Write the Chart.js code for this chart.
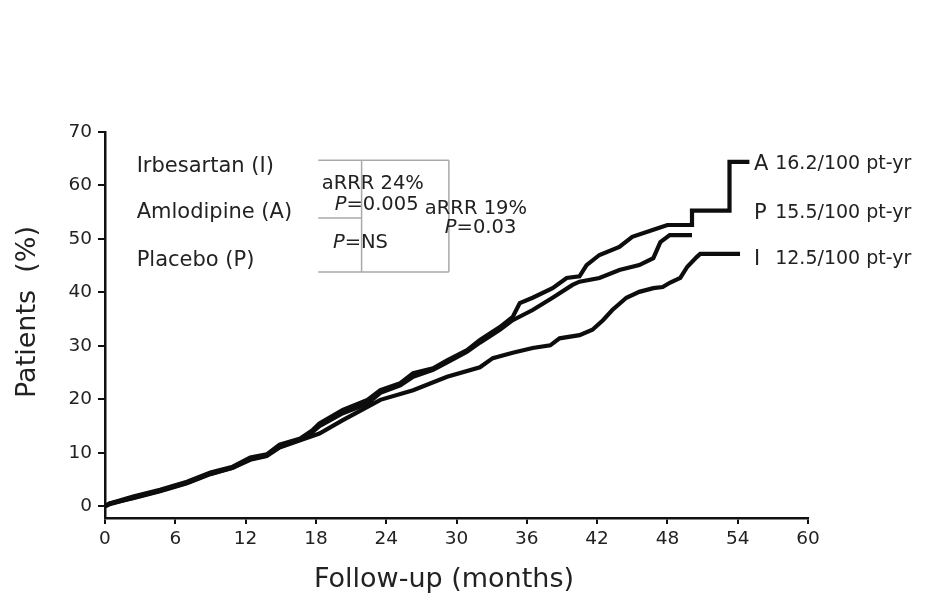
<!DOCTYPE html>
<html>
<head>
<meta charset="utf-8">
<script src="https://cdn.jsdelivr.net/npm/chart.js@4/dist/chart.umd.min.js"></script>
<style>
  html, body { margin: 0; padding: 0; background: #fff; }
  #grafico { display: block; }
</style>
</head>
<body>
<canvas id="grafico" width="925" height="603"></canvas>
<script>
// ==========================
// DADOS
// ==========================
const xTicks = [0, 6, 12, 18, 24, 30, 36, 42, 48, 54, 60];
const yTicks = [0, 10, 20, 30, 40, 50, 60, 70];

const tituloX = "Follow-up (months)";
const tituloY = "Patients  (%)";

// Irbesartan (I)
const mesesI = [0, 0.4, 2.4, 4.7, 7.0, 9.0, 10.9, 12.4, 13.8, 14.9, 16.6, 18.3, 20.3, 22.4, 23.5, 26.3, 29.2, 32.0, 33.1, 34.8, 36.5, 38.0, 38.8, 40.5, 41.6, 42.5, 43.3, 44.5, 45.6, 46.8, 47.6, 48.2, 49.1, 49.7, 50.5, 50.8, 54.2];
const pctI   = [0, 0.5, 1.5, 2.8, 4.3, 6.0, 7.2, 8.7, 9.4, 11.0, 12.3, 13.6, 16.1, 18.6, 19.9, 21.7, 24.2, 26.0, 27.7, 28.7, 29.6, 30.1, 31.4, 32.0, 33.0, 34.8, 36.7, 39.0, 40.1, 40.8, 41.0, 41.8, 42.7, 44.8, 46.6, 47.2, 47.2];

// Amlodipine (A)
const mesesA = [0, 0.4, 2.4, 4.7, 7.0, 9.0, 10.9, 12.4, 13.8, 14.9, 16.6, 17.7, 18.3, 20.3, 22.4, 23.5, 25.2, 26.3, 28.0, 29.2, 30.9, 32.0, 33.7, 34.8, 35.4, 36.5, 38.2, 39.4, 40.5, 41.1, 42.2, 43.9, 45.0, 46.8, 48.0, 50.1, 50.1, 53.3, 53.3, 55.0];
const pctA   = [0, 0.5, 1.8, 3.1, 4.6, 6.3, 7.4, 9.1, 9.7, 11.5, 12.6, 14.2, 15.5, 18.0, 19.9, 21.7, 23.0, 24.9, 25.8, 27.3, 29.2, 31.1, 33.5, 35.4, 38.0, 39.0, 40.8, 42.7, 43.0, 45.1, 47.0, 48.5, 50.4, 51.7, 52.6, 52.6, 55.3, 55.3, 64.4, 64.4];

// Placebo (P)
const mesesP = [0, 0.4, 2.4, 4.7, 7.0, 9.0, 10.9, 12.4, 13.8, 14.9, 16.6, 17.7, 18.3, 20.3, 22.4, 23.5, 25.2, 26.3, 28.0, 29.2, 30.9, 32.0, 33.7, 34.8, 36.5, 38.2, 39.9, 40.5, 42.2, 43.9, 45.6, 46.8, 47.4, 48.2, 50.1];
const pctP   = [0, 0.4, 1.6, 2.9, 4.4, 6.1, 7.2, 8.9, 9.5, 11.2, 12.4, 13.9, 15.0, 17.4, 19.2, 21.2, 22.6, 24.2, 25.5, 26.9, 28.9, 30.6, 33.0, 34.8, 36.7, 39.0, 41.4, 42.0, 42.7, 44.2, 45.1, 46.4, 49.4, 50.7, 50.7];

// textos do gráfico
const tratamentos = ["Irbesartan (I)", "Amlodipine (A)", "Placebo (P)"];
const letrasFinais = ["A", "P", "I"];
const taxas = ["16.2/100 pt-yr", "15.5/100 pt-yr", "12.5/100 pt-yr"];
const comparacoes = ["aRRR 24%", "=0.005", "=NS", "aRRR 19%", "=0.03"];

function montarPontos(meses, pct) {
    return meses.map((m, i) => ({ x: m, y: pct[i] }));
}

const FONTE = "'DejaVu Sans', 'Liberation Sans', sans-serif";
const COR_TEXTO = "#222";

// ==========================
// TEXTOS E COLCHETES
// ==========================
const anotacoes = {
    id: "anotacoes",
    afterDraw(chart) {
        const { ctx, scales: { x, y } } = chart;
        const px = v => x.getPixelForValue(v);
        const py = v => y.getPixelForValue(v);

        ctx.save();

        // colchetes cinza
        ctx.strokeStyle = "#a9a9a9";
        ctx.lineWidth = 1.5;
        ctx.beginPath();
        ctx.moveTo(px(18.2), py(64.7)); ctx.lineTo(px(29.35), py(64.7));
        ctx.moveTo(px(18.2), py(53.9)); ctx.lineTo(px(21.9), py(53.9));
        ctx.moveTo(px(18.2), py(43.8)); ctx.lineTo(px(29.35), py(43.8));
        ctx.moveTo(px(21.9), py(64.7)); ctx.lineTo(px(21.9), py(43.8));
        ctx.moveTo(px(29.35), py(64.7)); ctx.lineTo(px(29.35), py(43.8));
        ctx.stroke();

        ctx.fillStyle = COR_TEXTO;
        ctx.textAlign = "left";
        ctx.textBaseline = "middle";

        // nomes dos tratamentos
        ctx.font = "21px " + FONTE;
        const yTrat = [63.6, 55.0, 46.0];
        tratamentos.forEach((t, i) => ctx.fillText(t, px(2.7), py(yTrat[i])));

        // comparações
        ctx.font = "19.5px " + FONTE;
        ctx.fillText(comparacoes[0], px(18.5), py(60.2));
        ctx.fillText(comparacoes[3], px(27.3), py(55.6));

        const pItalico = (resto, xv, yv) => {
            ctx.font = "italic 19.5px " + FONTE;
            ctx.fillText("P", px(xv), py(yv));
            const w = ctx.measureText("P").width;
            ctx.font = "19.5px " + FONTE;
            ctx.fillText(resto, px(xv) + w, py(yv));
        };
        pItalico(comparacoes[1], 19.6, 56.3);
        pItalico(comparacoes[2], 19.45, 49.2);
        pItalico(comparacoes[4], 29.0, 52.0);

        // letras e taxas à direita
        const yFinal = [64.0, 54.8, 46.2];
        letrasFinais.forEach((l, i) => {
            ctx.font = "21px " + FONTE;
            ctx.fillText(l, px(55.4), py(yFinal[i]));
            ctx.font = "19px " + FONTE;
            ctx.fillText(taxas[i], px(57.2), py(yFinal[i]));
        });

        // títulos dos eixos
        ctx.font = "27px " + FONTE;
        ctx.textAlign = "center";
        ctx.fillText(tituloX, 444, 580);
        ctx.translate(28, 312);
        ctx.rotate(-Math.PI / 2);
        ctx.fillText(tituloY, 0, 0);

        ctx.restore();
    }
};

// ==========================
// GRÁFICO
// ==========================
const estiloLinha = {
    borderColor: "#0d0d0d",
    borderWidth: 4.2,
    pointRadius: 0,
    tension: 0,
    fill: false,
    borderJoinStyle: "miter",
    borderCapStyle: "butt"
};

const ctx = document.getElementById("grafico").getContext("2d");

new Chart(ctx, {
    type: "line",
    data: {
        datasets: [
            { label: "Amlodipine (A)", data: montarPontos(mesesA, pctA), ...estiloLinha },
            { label: "Placebo (P)", data: montarPontos(mesesP, pctP), ...estiloLinha },
            { label: "Irbesartan (I)", data: montarPontos(mesesI, pctI), ...estiloLinha }
        ]
    },
    options: {
        responsive: false,
        animation: false,
        devicePixelRatio: 1,
        layout: { padding: { left: 0, top: 132, right: 117, bottom: 0 } },
        plugins: {
            legend: { display: false },
            tooltip: { enabled: false }
        },
        scales: {
            x: {
                type: "linear",
                min: 0,
                max: 60,
                afterBuildTicks: s => { s.ticks = xTicks.map(v => ({ value: v })); },
                afterFit: s => { s.height = 85; },
                border: { display: true, color: "#111", width: 2.5 },
                grid: { display: true, drawOnChartArea: false, drawTicks: true, tickLength: 6, color: "#111", lineWidth: 2 },
                ticks: { color: COR_TEXTO, font: { family: FONTE, size: 18.5 }, padding: 4, maxRotation: 0 }
            },
            y: {
                type: "linear",
                min: -2.2,
                max: 70,
                afterBuildTicks: s => { s.ticks = yTicks.map(v => ({ value: v })); },
                afterFit: s => { s.width = 105; },
                border: { display: true, color: "#111", width: 2.5 },
                grid: { display: true, drawOnChartArea: false, drawTicks: true, tickLength: 7, color: "#111", lineWidth: 2 },
                ticks: { color: COR_TEXTO, font: { family: FONTE, size: 18.5 }, padding: 6 }
            }
        }
    },
    plugins: [anotacoes]
});
</script>
</body>
</html>
